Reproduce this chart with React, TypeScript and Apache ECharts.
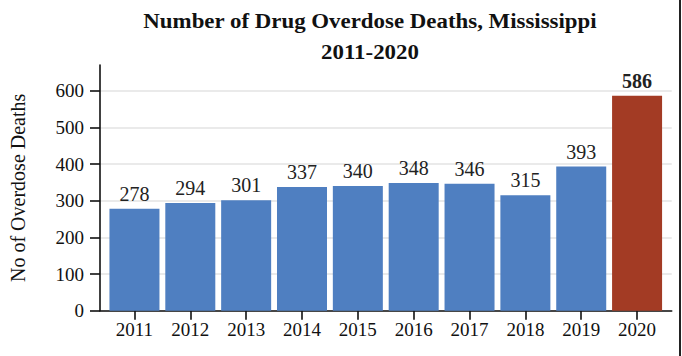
import React, { useEffect, useRef } from "react";
import * as echarts from "echarts";

const years = [2011, 2012, 2013, 2014, 2015, 2016, 2017, 2018, 2019, 2020];
const deaths = [278, 294, 301, 337, 340, 348, 346, 315, 393, 586];
const yTicks = [0, 100, 200, 300, 400, 500, 600];
const titleLines = ["Number of Drug Overdose Deaths, Mississippi", "2011-2020"];
const yAxisTitle = "No of Overdose Deaths";

const BLUE = "#4f7fc1";
const RED = "#a33b24";
const FONT = "'Liberation Serif', 'Times New Roman', serif";

export default function App() {
  const ref = useRef<HTMLDivElement>(null);
  useEffect(() => {
    if (!ref.current) return;
    const chart = echarts.init(ref.current, undefined, { renderer: "svg" });
    const last = years.length - 1;
    const data = years.map((y, i) => ({
      value: [y, deaths[i]],
      itemStyle: { color: i === last ? RED : BLUE },
      label: i === last ? { fontWeight: "bold" as const } : undefined,
    }));
    chart.setOption({
      animation: false,
      backgroundColor: "#ffffff",
      textStyle: { fontFamily: FONT },
      graphic: [
        {
          type: "text",
          x: 370,
          y: 20.5,
          scaleX: 1.09,
          style: {
            text: titleLines[0],
            font: `bold 21px ${FONT}`,
            fill: "#111",
            textAlign: "center",
            textVerticalAlign: "middle",
          },
        },
        {
          type: "text",
          x: 370,
          y: 51.5,
          scaleX: 1.09,
          style: {
            text: titleLines[1],
            font: `bold 21px ${FONT}`,
            fill: "#111",
            textAlign: "center",
            textVerticalAlign: "middle",
          },
        },
        {
          type: "line",
          shape: { x1: 680, y1: 0, x2: 680, y2: 356 },
          style: { stroke: "#222", lineWidth: 2 },
        },
      ],
      grid: { left: 96, right: 10.3, top: 65, bottom: 45.3, containLabel: false },
      xAxis: {
        type: "value",
        min: 2010.383,
        max: 2020.62,
        splitLine: { show: false },
        axisLine: { show: true, lineStyle: { color: "#111", width: 1.6 } },
        axisTick: {
          show: true,
          length: 9,
          customValues: years,
          lineStyle: { color: "#111", width: 1.6 },
        },
        axisLabel: {
          customValues: years,
          formatter: (v: number) => String(v),
          fontFamily: FONT,
          fontSize: 19,
          color: "#111",
          margin: 9,
        },
      },
      yAxis: {
        type: "value",
        min: 0,
        max: 670,
        interval: 100,
        name: yAxisTitle,
        nameLocation: "middle",
        nameGap: 72,
        nameTextStyle: { fontFamily: FONT, fontSize: 20, color: "#111" },
        axisLine: { show: true, lineStyle: { color: "#111", width: 1.6 } },
        axisTick: {
          show: true,
          length: 10,
          customValues: yTicks,
          lineStyle: { color: "#111", width: 1.6 },
        },
        axisLabel: {
          customValues: yTicks,
          fontFamily: FONT,
          fontSize: 19,
          color: "#111",
          margin: 16,
        },
        splitLine: {
          show: true,
          lineStyle: {
            color: ["#e3e3e3", "#e3e3e3", "#e3e3e3", "#e3e3e3", "#e3e3e3", "#e3e3e3", "#e3e3e3", "rgba(0,0,0,0)"],
            width: 1.5,
          },
        },
      },
      series: [
        {
          type: "bar",
          barWidth: 50,
          data,
          label: {
            show: true,
            position: "top",
            distance: 5,
            fontFamily: FONT,
            fontSize: 20,
            color: "#222",
            formatter: (p: any) => String(p.value[1]),
          },
        },
      ],
    });
    return () => chart.dispose();
  }, []);
  return (
    <div
      ref={ref}
      style={{ position: "fixed", left: 0, top: 0, width: 682, height: 356 }}
    />
  );
}
